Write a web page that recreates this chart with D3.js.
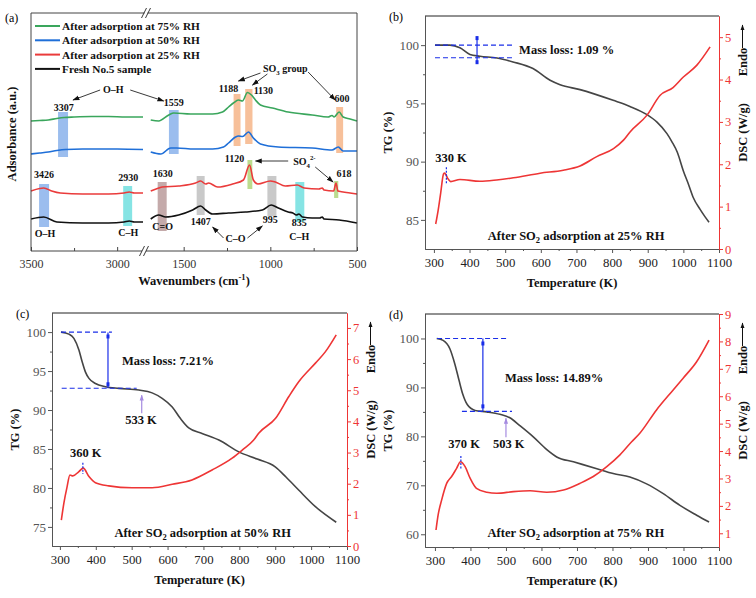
<!DOCTYPE html>
<html><head><meta charset="utf-8">
<script src="https://cdn.jsdelivr.net/npm/d3@7"></script>
<style>body{margin:0;background:#fff}svg{display:block}text{font-family:"Liberation Serif","Times New Roman",serif}</style>
</head><body><script>
// ---------------- Panel (a): FTIR spectra [wavenumber cm-1, absorbance a.u. (stacked)] ----------------
const ftirLegend=["After adsorption at 75% RH","After adsorption at 50% RH","After adsorption at 25% RH","Fresh No.5 sample"];
const ftir75=[[3500,130],[3450,130.5],[3400,131],[3350,132.5],[3307,133.5],[3250,134],[3150,134.5],[3050,134.5],[2950,134],[2850,134],
 [1690,131],[1644,130],[1586,136],[1557,138],[1460,137],[1333,137],[1276,139],[1241,144],[1213,148],[1184,151],[1161,150],[1132,158.5],[1109,156],[1086,151],[1057,146],[988,143],[897,139],[759,136],[667,134],[644,135.5],[632,134],[603,139],[580,134],[540,132],[500,130]];
const ftir50=[[3500,97],[3450,98],[3400,99],[3350,100.5],[3300,101.5],[3200,102],[3000,102],[2850,101.5],
 [1690,99],[1632,97],[1575,103],[1540,103],[1440,102],[1333,102],[1270,104],[1241,108],[1201,114],[1184,115],[1160,114.5],[1126,119],[1098,113],[1057,107],[954,104],[759,103],[644,101],[608,104],[580,100],[500,100]];
const ftir25=[[3500,60],[3450,62.5],[3426,63],[3380,60],[3330,58],[3200,57],[3050,57],[2960,58],[2930,59],[2900,58],[2850,58],
 [1690,60],[1644,63],[1624,64],[1529,65],[1431,68],[1402,70],[1373,67],[1356,68],[1304,64],[1218,67],[1155,71],[1120,86],[1098,71],[1072,67],[1000,70],[971,69],[914,65],[845,66],[805,63],[720,62],[701,63],[690,61],[635,60],[621,68],[610,60],[540,58],[500,57]];
const ftirFresh=[[3500,32],[3426,34],[3350,29],[3200,28],[3050,28],[2960,29],[2930,30],[2900,29],[2850,29],
 [1690,32],[1644,36],[1604,34],[1529,36],[1448,41],[1402,45],[1373,41],[1333,37],[1241,38],[1144,39],[1046,41],[995,46],[954,43],[897,39],[870,38],[850,36],[835,37],[815,34],[759,33],[715,33],[701,34],[690,32],[603,31],[500,28]];
// bands: [centre, half width, top, bottom, kind]
const ftirBands=[[3314,29,139,94,"blue"],[1557,28,141,97,"blue"],[1192,20,157,105,"orange"],[1124,21,162,107,"orange"],[600,20,144,98,"orange"],
 [3424,29,67,24,"blue"],[2939,26,65,25,"cyan"],[1624,26,69,20,"brown"],[1402,23,75,36,"grey"],[1118,14,91,62,"green"],[991,26,75,35,"grey"],[830,26,69,29,"cyan"],[620,12,70,53,"green"]];
const ftirDomainLeft=[3500,2850], ftirDomainRight=[1700,500], ftirYDomain=[0,238];
const ftirTicksLeft=[3500,3000], ftirMinorLeft=[3250], ftirTicksRight=[1500,1000,500], ftirMinorRight=[1250,750];

// ---------------- Panels (b)-(d): TG (%) and DSC (W/g) vs temperature (K) ----------------
const tg25=[[303,100],[345,100],[373,99.77],[401,99.2],[429,99.05],[477,98.9],[522,98.56],[578,97.99],[626,96.98],[654,96.6],[710,96.18],[803,95.26],[850,94.74],[898,94.03],[926,93.39],[954,92.4],[968,91.7],[983,90.8],[1000,89.2],[1015,88.0],[1028,86.9],[1047,85.9],[1060,85.3],[1072,84.8]];
const dsc25=[[305,0.59],[312,0.92],[319,1.32],[327,1.77],[330,1.79],[340,1.65],[347,1.59],[373,1.64],[429,1.6],[476,1.63],[523,1.68],[598,1.79],[663,1.86],[710,1.96],[757,2.18],[804,2.37],[832,2.57],[851,2.77],[898,3.16],[935,3.63],[971,3.81],[1000,4.06],[1038,4.34],[1075,4.77]];
const tg50=[[303,100],[325,99.74],[339,99.2],[353,97.7],[362,96.2],[371,94.9],[381,94.06],[399,93.4],[427,92.99],[464,92.78],[520,92.56],[557,92.2],[585,91.5],[613,90.4],[636,88.9],[659,87.7],[696,87.0],[743,86.15],[800,84.6],[850,83.7],[900,82.7],[930,81.4],[966,79.7],[1012,77.6],[1070,75.6]];
const dsc50=[[304,0.83],[311,1.37],[320,1.9],[328,2.28],[336,2.25],[353,2.39],[365,2.5],[381,2.23],[399,2.03],[436,1.93],[501,1.87],[557,1.87],[613,1.98],[668,2.12],[724,2.44],[780,2.82],[808,3.08],[840,3.4],[854,3.62],[901,4.1],[938,4.8],[966,5.28],[1012,5.87],[1040,6.24],[1070,6.78]];
const tg75=[[305,100],[323,99.6],[342,97.9],[356,94.8],[368,91.4],[378,88.7],[391,86.5],[413,85.3],[446,85.0],[483,84.5],[511,83.8],[539,82.2],[577,79.9],[615,77.3],[643,75.8],[690,74.8],[756,73.4],[802,72.4],[849,71.7],[896,70.3],[943,68.3],[990,65.9],[1037,63.9],[1072,62.5]];
const dsc75=[[303,1.12],[309,1.67],[319,2.22],[333,2.82],[347,3.07],[361,3.37],[372,3.61],[385,3.43],[399,3.01],[417,2.64],[446,2.5],[474,2.46],[521,2.52],[568,2.55],[615,2.5],[662,2.58],[708,2.82],[746,3.07],[784,3.43],[821,3.86],[854,4.34],[877,4.65],[924,5.5],[971,6.23],[999,6.66],[1037,7.26],[1072,8.05]];
const tempTicks=[300,400,500,600,700,800,900,1000,1100];
const tempMinor=[350,450,550,650,750,850,950,1050];
const massLoss=[1.09,7.21,14.89];
const peakTemps=[330,360,370];
const onsetTemps=[533,503];
const rhLabels=["25%","50%","75%"];

// ---------------------------------------------------------------------------------
const W=756,H=598;
const svg=d3.select("body").append("svg").attr("width",W).attr("height",H);
const defs=svg.append("defs");
function marker(id,color,size){
  defs.append("marker").attr("id",id).attr("viewBox","0 0 10 10").attr("refX",9).attr("refY",5)
   .attr("markerWidth",size).attr("markerHeight",size).attr("markerUnits","userSpaceOnUse").attr("orient","auto")
   .append("path").attr("d","M0,1.5 L10,5 L0,8.5 Z").attr("fill",color);
}
marker("arrK","#111",7); marker("arrP","#a58be0",6); marker("arrE","#111",6);

function rich(g,x,y,parts,o={}){
  const size=o.size||12;
  const t=g.append("text").attr("x",x).attr("y",y).attr("font-size",size)
    .attr("font-weight",o.weight||"bold").attr("text-anchor",o.anchor||"start").attr("fill",o.fill||"#111");
  if(o.transform) t.attr("transform",o.transform);
  let shift=0;
  parts.forEach(p=>{
    const s=typeof p==="string"?{t:p,o:0}:p;
    const off=s.o||0;
    const ts=t.append("tspan").text(s.t).attr("dy",off-shift);
    if(off) ts.attr("font-size",size*0.68);
    shift=off;
  });
  return t;
}

// ================= Panel (a) =================
(function(){
  const g=svg.append("g");
  const L=31,R=357,T=13,B=251,bL=143,bR=149;
  const xl=d3.scaleLinear().domain(ftirDomainLeft).range([L,bL]);
  const xr=d3.scaleLinear().domain(ftirDomainRight).range([bR,R]);
  const X=w=>w>2000?xl(w):xr(w);
  const y=d3.scaleLinear().domain(ftirYDomain).range([B,T]);
  const bandColor={blue:"#9bbdee",orange:"#f7c09a",cyan:"#86e4e4",brown:"#c4aaaa",grey:"#c9c9c9",green:"#bcdc8e"};
  g.selectAll("rect.band").data(ftirBands).join("rect").attr("class","band")
    .attr("x",d=>X(d[0]+d[1])).attr("width",d=>X(d[0]-d[1])-X(d[0]+d[1]))
    .attr("y",d=>y(d[2])).attr("height",d=>y(d[3])-y(d[2])).attr("fill",d=>bandColor[d[4]]);
  const colors=["#3aa65c","#1f6fd8","#ea3b3b","#111111"];
  const series=[ftir75,ftir50,ftir25,ftirFresh];
  const line=d3.line().x(d=>X(d[0])).y(d=>y(d[1])).curve(d3.curveMonotoneX);
  series.forEach((s,i)=>{
    [s.filter(d=>d[0]>2000),s.filter(d=>d[0]<2000)].forEach(seg=>
      g.append("path").attr("d",line(seg)).attr("fill","none").attr("stroke",colors[i]).attr("stroke-width",1.6));
  });
  // frame
  const fc="#444";
  g.append("line").attr("x1",L).attr("x2",L).attr("y1",T).attr("y2",B).attr("stroke",fc);
  g.append("line").attr("x1",R).attr("x2",R).attr("y1",T).attr("y2",B).attr("stroke",fc);
  [[T,bL+1.5,bR-1.5],[B,bL-1,bR-3]].forEach(([yy,a,b])=>{
    g.append("line").attr("x1",L).attr("x2",a).attr("y1",yy).attr("y2",yy).attr("stroke",fc);
    g.append("line").attr("x1",b).attr("x2",R).attr("y1",yy).attr("y2",yy).attr("stroke",fc);
    const c=(a+b)/2;
    [-2,2].forEach(dx=>g.append("line").attr("x1",c+dx-2.5).attr("x2",c+dx+2.5).attr("y1",yy+5).attr("y2",yy-5).attr("stroke","#222").attr("stroke-width",0.9));
  });
  // axes
  const styleAx=sel=>{sel.select(".domain").remove();sel.selectAll("line").attr("stroke",fc);
    sel.selectAll("text").attr("font-size",12).attr("fill","#333").attr("font-family","Liberation Serif");};
  [[xl,ftirTicksLeft,ftirMinorLeft],[xr,ftirTicksRight,ftirMinorRight]].forEach(([sc,maj,mn])=>{
    g.append("g").attr("transform",`translate(0,${B})`).call(d3.axisBottom(sc).tickValues(maj).tickSizeInner(-4).tickSizeOuter(0).tickPadding(8).tickFormat(d3.format("d"))).call(styleAx);
    g.append("g").attr("transform",`translate(0,${B})`).call(d3.axisBottom(sc).tickValues(mn).tickSizeInner(-3).tickSizeOuter(0).tickFormat("")).call(styleAx);
  });
  rich(g,194,285,["Wavenumbers (cm",{t:"-1",o:-5},")"],{size:12.5,anchor:"middle"});
  rich(g,0,0,["Adsorbance  (a.u.)"],{size:12.5,anchor:"middle",transform:"translate(16,134) rotate(-90)"});
  g.append("text").attr("x",5).attr("y",22).attr("font-size",12).text("(a)");
  // legend
  ftirLegend.forEach((s,i)=>{
    const yy=26+i*14.3;
    g.append("line").attr("x1",35).attr("x2",60).attr("y1",yy).attr("y2",yy).attr("stroke",colors[i]).attr("stroke-width",2);
    g.append("text").attr("x",62).attr("y",yy).attr("dy","0.35em").attr("font-size",11.3).attr("font-weight","bold").attr("fill","#111").text(s);
  });
  // labels
  const lab=(parts,w,v,anchor="middle")=>rich(g,X(w),y(v),Array.isArray(parts)?parts:[parts],{size:10,anchor});
  lab("3307",3310,140); lab("1559",1557,145); lab("1188",1241,159); lab("1130",1040,157); lab("600",586,149);
  lab("O\u2013H",3023,158); lab(["SO",{t:"3",o:3}," group"],914,179);
  lab("3426",3424,73); lab("2930",2936,70); lab("O\u2013H",3418,14); lab("C\u2013H",2936,15);
  lab("1630",1621,74); lab("1120",1207,89); lab(["SO",{t:"4",o:3},{t:"2-",o:-5}],868,86,"start"); lab("618",575,74);
  lab("C=O",1621,21); lab("1407",1402,26); lab("995",1000,28); lab("835",833,25); lab("C\u2013H",833,11); lab("C\u2013O",1201,9);
  const arr=(w1,v1,w2,v2)=>g.append("line").attr("x1",X(w1)).attr("y1",y(v1)).attr("x2",X(w2)).attr("y2",y(v2))
    .attr("stroke","#222").attr("stroke-width",0.9).attr("marker-end","url(#arrK)");
  arr(3099,161,3256,151); arr(2924,161,1615,150);
  arr(1057,178,1184,170); arr(1017,177,1103,166); arr(782,179,626,151);
  arr(897,90,1086,90); arr(741,84,638,69);
  arr(1270,13,1333,24); arr(1132,13,1046,25);
})();

// ================= Panels (b)-(d) =================
const panels=[
 {lab:"(b)",L:425,R:719,T:16,B:249,xDom:[275,1100],tgDom:[82.5,102.5],dscDom:[0,5.5],tgT:[85,90,95,100],tgM:[87.5,92.5,97.5],dT:[0,1,2,3,4,5],dM:[0.5,1.5,2.5,3.5,4.5],
  tg:tg25,dsc:dsc25,ml:0,d1:[303,522],d2:[303,522],vx:421,vE:[100.69,98.45],inset:1,mt:[539,99.22],
  pk:0,pkLab:[348,2.05],pkLine:[335,1.93,1.53],rh:0,rhPos:[699,0.21],on:null},
 {lab:"(c)",L:52,R:347,T:313,B:546,xDom:[278,1100],tgDom:[72.55,102.45],dscDom:[0,7.48],tgT:[75,80,85,90,95,100],tgM:[77.5,82.5,87.5,92.5,97.5],dT:[0,1,2,3,4,5,6,7],dM:[0.5,1.5,2.5,3.5,4.5,5.5,6.5],
  tg:tg50,dsc:dsc50,ml:1,d1:[303,445],d2:[305,514],vx:434,vE:[99.95,92.79],inset:4,mt:[473,95.77],
  pk:1,pkLab:[372,2.86],pkLine:[364,2.67,2.31],rh:1,rhPos:[698,0.29],on:0,onLab:[526,88.2],onArr:[528,89.6,91.9]},
 {lab:"(d)",L:425,R:719,T:314,B:547,xDom:[272,1100],tgDom:[57.4,105],dscDom:[0.5,9],tgT:[60,70,80,90,100],tgM:[65,75,85,95],dT:[1,2,3,4,5,6,7,8,9],dM:[1.5,2.5,3.5,4.5,5.5,6.5,7.5,8.5],
  tg:tg75,dsc:dsc75,ml:2,d1:[306,503],d2:[376,517],vx:435,vE:[100,85.11],inset:5,mt:[497,91.2],
  pk:2,pkLab:[382,4.11],pkLine:[373,3.82,3.31],rh:2,rhPos:[697,0.87],on:1,onLab:[508,77.55],onArr:[500,79.8,83.7]}
];
const RED="#ee3535", GREY="#555";
panels.forEach(p=>{
  const g=svg.append("g");
  const x=d3.scaleLinear().domain(p.xDom).range([p.L,p.R]);
  const yT=d3.scaleLinear().domain(p.tgDom).range([p.B,p.T]);
  const yD=d3.scaleLinear().domain(p.dscDom).range([p.B,p.T]);
  const sty=(col,tcol,fs)=>sel=>{sel.select(".domain").attr("stroke",col);sel.selectAll(".tick line").attr("stroke",col);
    sel.selectAll("text").attr("font-size",fs).attr("fill",tcol).attr("font-family","Liberation Serif");};
  const put=(axis,tr,col,tcol,fs=13)=>g.append("g").attr("transform",tr).call(axis).call(sty(col,tcol,fs));
  put(d3.axisBottom(x).tickValues(tempTicks).tickSizeInner(4).tickSizeOuter(0).tickPadding(5).tickFormat(d3.format("d")),`translate(0,${p.B})`,GREY,"#222",12.8);
  put(d3.axisBottom(x).tickValues(tempMinor).tickSizeInner(2).tickSizeOuter(0).tickFormat(""),`translate(0,${p.B})`,GREY,"#222");
  put(d3.axisLeft(yT).tickValues(p.tgT).tickSizeInner(4).tickSizeOuter(0).tickPadding(2),`translate(${p.L},0)`,GREY,GREY);
  put(d3.axisLeft(yT).tickValues(p.tgM).tickSizeInner(2).tickSizeOuter(0).tickFormat(""),`translate(${p.L},0)`,GREY,GREY);
  put(d3.axisRight(yD).tickValues(p.dT).tickSizeInner(4).tickSizeOuter(0).tickPadding(2).tickFormat(d3.format("d")),`translate(${p.R},0)`,RED,RED,12.5);
  put(d3.axisRight(yD).tickValues(p.dM).tickSizeInner(2).tickSizeOuter(0).tickFormat(""),`translate(${p.R},0)`,RED,RED);
  g.append("line").attr("x1",p.L).attr("x2",p.R).attr("y1",p.T).attr("y2",p.T).attr("stroke","#222");
  // curves
  const lt=d3.line().x(d=>x(d[0])).y(d=>yT(d[1])).curve(d3.curveMonotoneX);
  const ld=d3.line().x(d=>x(d[0])).y(d=>yD(d[1])).curve(d3.curveMonotoneX);
  g.append("path").attr("d",lt(p.tg)).attr("fill","none").attr("stroke","#454545").attr("stroke-width",1.6);
  g.append("path").attr("d",ld(p.dsc)).attr("fill","none").attr("stroke",RED).attr("stroke-width",1.6);
  // titles
  const mid=(p.T+p.B)/2;
  rich(g,(p.L+p.R)/2,p.B+37.5,["Temperature (K)"],{size:12.5,anchor:"middle"});
  rich(g,0,0,["TG (%)"],{size:12.5,anchor:"middle",transform:`translate(${p.L-33},${mid}) rotate(-90)`});
  rich(g,0,0,["DSC (W/g)"],{size:12.5,anchor:"middle",transform:`translate(${p.R+28},${mid}) rotate(-90)`});
  rich(g,0,0,["Endo"],{size:12.5,anchor:"middle",transform:`translate(${p.R+28},${p.T+46}) rotate(-90)`});
  g.append("line").attr("x1",p.R+23.5).attr("x2",p.R+23.5).attr("y1",p.T+32).attr("y2",p.T+9).attr("stroke","#111").attr("marker-end","url(#arrE)");
  g.append("text").attr("x",p.L-36).attr("y",p.T+5).attr("font-size",12).text(p.lab);
  // mass loss annotation
  const ml=massLoss[p.ml];
  const BLUE="#1a2ee8";
  g.append("line").attr("x1",x(p.d1[0])).attr("x2",x(p.d1[1])).attr("y1",yT(100)).attr("y2",yT(100)).attr("stroke",BLUE).attr("stroke-dasharray","5,3").attr("stroke-width",1.1);
  g.append("line").attr("x1",x(p.d2[0])).attr("x2",x(p.d2[1])).attr("y1",yT(100-ml)).attr("y2",yT(100-ml)).attr("stroke",BLUE).attr("stroke-dasharray","5,3").attr("stroke-width",1.1);
  g.append("line").attr("x1",x(p.vx)).attr("x2",x(p.vx)).attr("y1",yT(p.vE[0])).attr("y2",yT(p.vE[1])).attr("stroke",BLUE).attr("stroke-width",1.2);
  [[p.vE[0],p.inset],[p.vE[1],-p.inset]].forEach(([v,ins])=>
    g.append("rect").attr("x",x(p.vx)-1.5).attr("y",yT(v)+ins-2).attr("width",3).attr("height",4).attr("fill",BLUE));
  rich(g,x(p.mt[0]),yT(p.mt[1]),["Mass loss: "+ml.toFixed(2)+(p.ml===0?" %":"%")],{size:12.5});
  // peak
  rich(g,x(p.pkLab[0]),yD(p.pkLab[1]),[peakTemps[p.pk]+" K"],{size:12.5,anchor:"middle"});
  g.append("line").attr("x1",x(p.pkLine[0])).attr("x2",x(p.pkLine[0])).attr("y1",yD(p.pkLine[1])).attr("y2",yD(p.pkLine[2])).attr("stroke",BLUE).attr("stroke-dasharray","2,1.5").attr("stroke-width",1.2);
  // onset
  if(p.on!==null){
    rich(g,x(p.onLab[0]),yT(p.onLab[1]),[onsetTemps[p.on]+" K"],{size:12.5,anchor:"middle"});
    g.append("line").attr("x1",x(p.onArr[0])).attr("x2",x(p.onArr[0])).attr("y1",yT(p.onArr[1])).attr("y2",yT(p.onArr[2])).attr("stroke","#a58be0").attr("stroke-width",1.2).attr("marker-end","url(#arrP)");
  }
  rich(g,x(p.rhPos[0]),yD(p.rhPos[1]),["After SO",{t:"2",o:3},{t:" adsorption at "+rhLabels[p.rh]+" RH",o:0}],{size:12.5,anchor:"middle"});
});
</script></body></html>
